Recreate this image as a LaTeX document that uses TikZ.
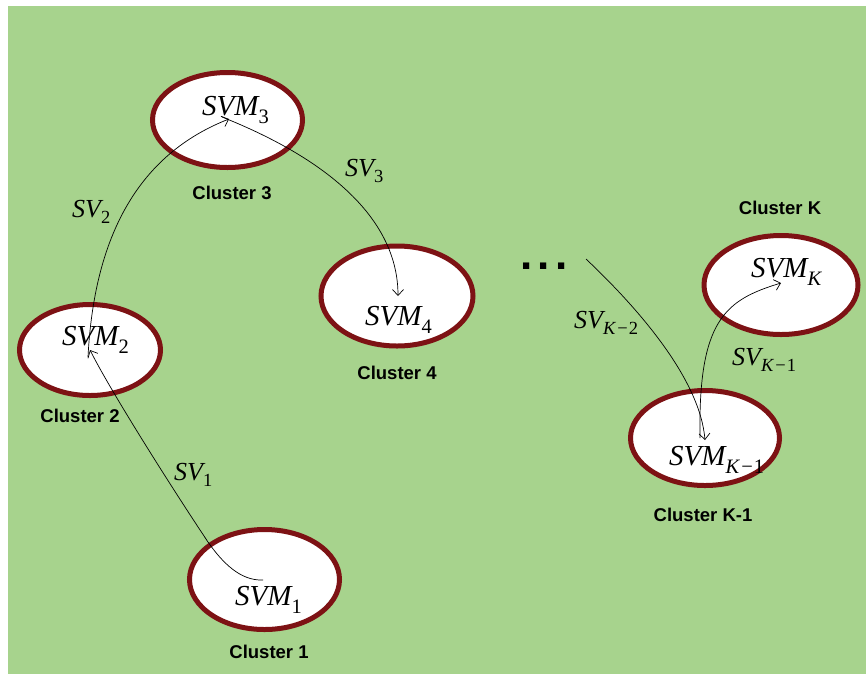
\documentclass[tikz,border=0pt]{standalone}
\usepackage{fontspec}
\usetikzlibrary{arrows.meta,shapes.geometric}
\newfontfamily\tnrfont{Liberation Serif}
\newfontfamily\arlfont{Liberation Sans}
\definecolor{bggreen}{RGB}{167,211,141}
\definecolor{ringred}{RGB}{125,18,20}
\newcommand\svmlab[1]{{\tnrfont\fontsize{29}{29}\selectfont\itshape SVM}\raisebox{-8pt}{\tnrfont\fontsize{20.5}{20.5}\selectfont #1}}
\newcommand\svlab[1]{{\tnrfont\fontsize{26}{26}\selectfont\itshape SV}\raisebox{-6.5pt}{\tnrfont\fontsize{18.5}{18.5}\selectfont #1}}
\newcommand\kmin[1]{{\itshape K}\kern2pt−\kern1pt#1}
\begin{document}
\begin{tikzpicture}[x=1pt,y=-1pt,
  cluster/.style={ellipse, draw=ringred, line width=5pt, fill=white, inner sep=0pt},
  clab/.style={font=\arlfont\bfseries\fontsize{18.5}{18.5}\selectfont, inner sep=0pt, anchor=center},
  mlab/.style={inner sep=0pt, anchor=base west},
  conn/.style={line width=0.7pt, black},
  tip/.style={-{Straight Barb[length=6pt,width=11pt,line width=0.7pt]}}
]
\useasboundingbox (0,0) rectangle (866,673);
\fill[bggreen] (8,6) rectangle (870,680);
% clusters
\node[cluster, minimum width=150pt, minimum height=100pt] (c1) at (264.5,579.5) {};
\node[cluster, minimum width=141pt, minimum height=91pt] (c2) at (90,350) {};
\node[cluster, minimum width=150pt, minimum height=95pt] (c3) at (227.5,120) {};
\node[cluster, minimum width=152pt, minimum height=100pt] (c4) at (397,296) {};
\node[cluster, minimum width=154pt, minimum height=99pt] (cK) at (781,285) {};
\node[cluster, minimum width=149pt, minimum height=95pt] (cK1) at (705,438) {};
% cluster labels
\node[clab] (l1) at (269,652) {Cluster 1};
\node[clab] (l2) at (80,416) {Cluster 2};
\node[clab] (l3) at (232,193) {Cluster 3};
\node[clab] (l4) at (397,373) {Cluster 4};
\node[clab] (lK) at (780,208) {Cluster K};
\node[clab] (lK1) at (703,515) {Cluster K-1};
% SVM labels
\node[mlab] (m1) at (235,605) {\svmlab{1}};
\node[mlab] (m2) at (62,345) {\svmlab{2}};
\node[mlab] (m3) at (202,115) {\svmlab{3}};
\node[mlab] (m4) at (365,325) {\svmlab{4}};
\node[mlab] (mK) at (751,277) {\svmlab{\itshape K}};
\node[mlab] (mK1) at (669,465) {\svmlab{\kmin{1}}};
% SV labels
\node[mlab] (v1) at (174,480) {\svlab{1}};
\node[mlab] (v2) at (72,217) {\svlab{2}};
\node[mlab] (v3) at (345,176) {\svlab{3}};
\node[mlab] (vK2) at (574,328) {\svlab{\kmin{2}}};
\node[mlab] (vK1) at (732,365) {\svlab{\kmin{1}}};
% dots
\node[mlab, font=\arlfont\bfseries\fontsize{44}{44}\selectfont] (dots) at (520,269) {.\kern5.5pt.\kern5.5pt.};
% connector end points
\coordinate (s1) at (263,580);
\coordinate (t1) at (90,350);
\coordinate (s2) at (88,357);
\coordinate (t2) at (229,119);
\coordinate (s3) at (222,117);
\coordinate (t3) at (398,296);
\coordinate (sK2) at (586,259);
\coordinate (tK2) at (705,440);
\coordinate (sK1) at (700,438);
\coordinate (tK1) at (781,283);
% connectors
\draw[conn, tip] (s1) .. controls (240,581) and (222,562) .. (208,542) .. controls (170,485) and (110,390) .. (t1);
\draw[conn, tip] (s2) .. controls (95,220) and (150,150) .. (t2);
\draw[conn, tip] (s3) .. controls (330,160) and (398,220) .. (t3);
\draw[conn, tip] (sK2) .. controls (640,310) and (700,380) .. (tK2);
\draw[conn, tip] (sK1) .. controls (698,320) and (725,300) .. (tK1);
\end{tikzpicture}
\end{document}
